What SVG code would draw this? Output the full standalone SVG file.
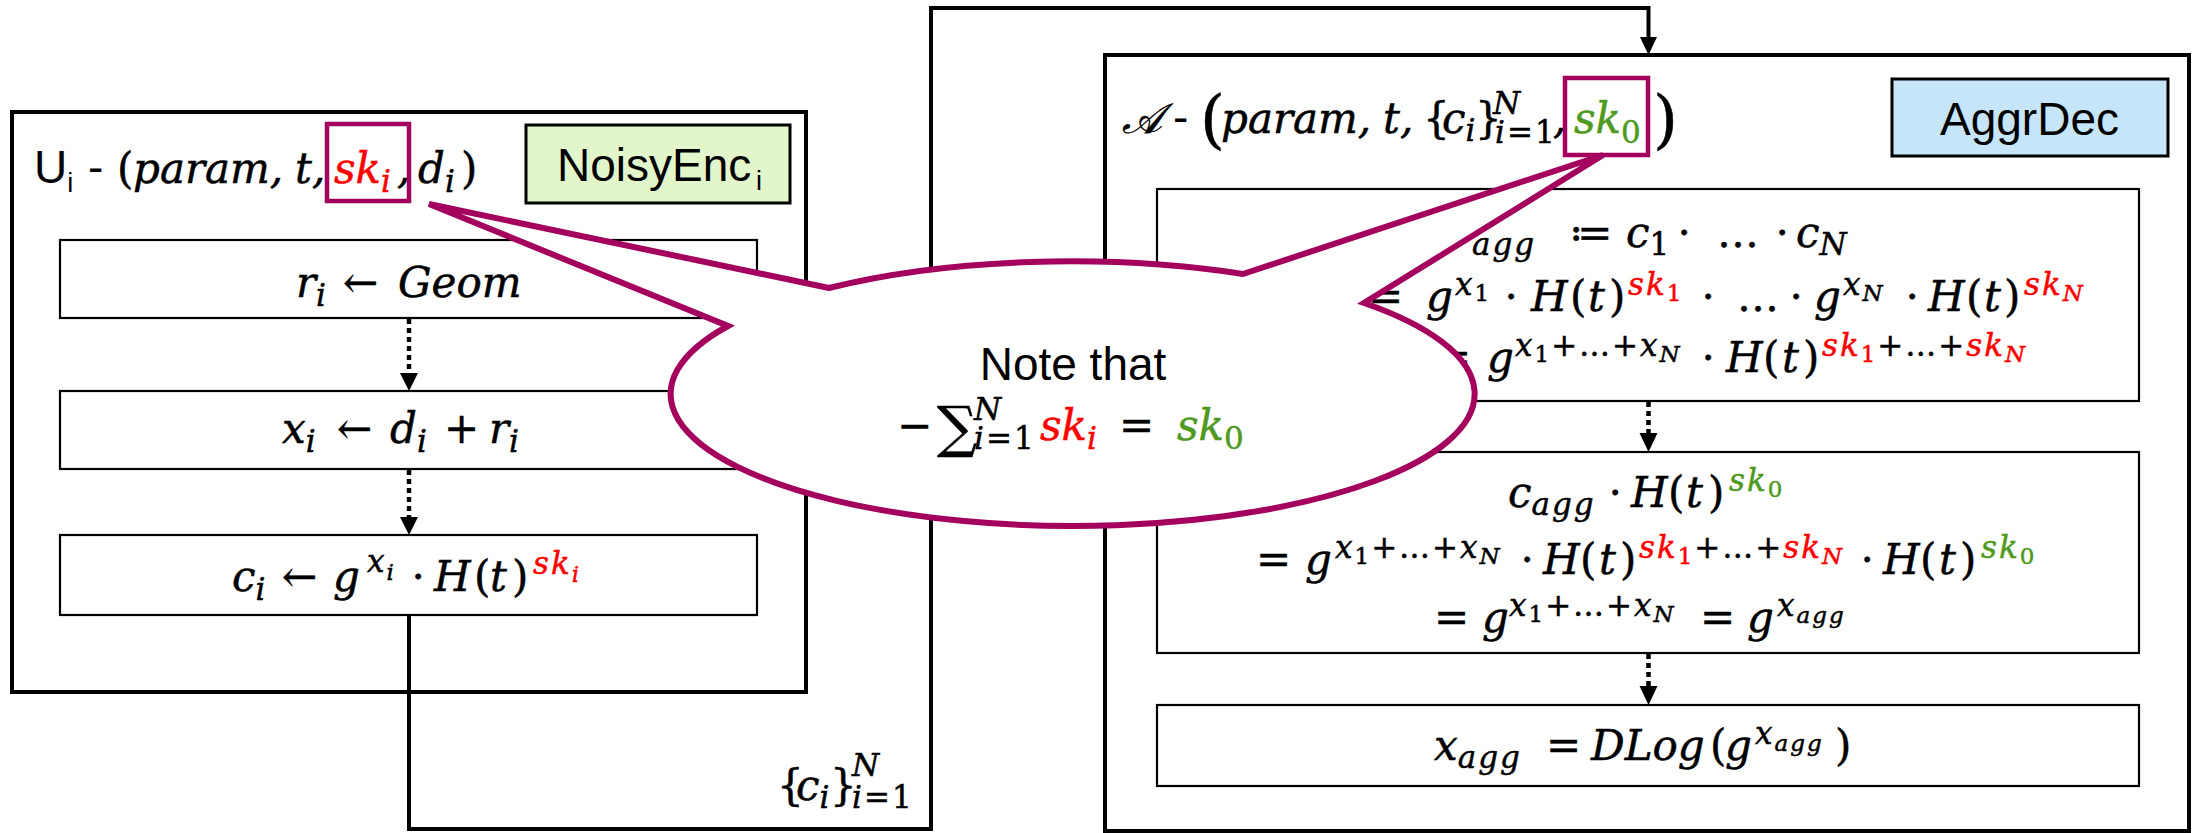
<svg xmlns="http://www.w3.org/2000/svg" width="2192" height="833" viewBox="0 0 2192 833">
<style>
.bg{fill:#fff}
.frame{fill:none;stroke:#000;stroke-width:4}
.box{fill:#fff;stroke:#000;stroke-width:2.2}
.lab{stroke:#000;stroke-width:3}
.hl{fill:none;stroke:#A4005E;stroke-width:4.5}
.bubble{fill:#fff;stroke:#A4005E;stroke-width:6;stroke-linejoin:miter}
.sans{font-family:"Liberation Sans",Arial,sans-serif;font-size:46px;fill:#000}
.m{font-family:"DejaVu Serif",serif;font-style:italic;font-size:42px;fill:#000;stroke:#000;stroke-width:0.5}
.u{font-style:normal}
.s{font-size:31px;letter-spacing:2px}
.ss{font-size:23px;letter-spacing:2px}
.red{fill:#FF0000;stroke:#FF0000}
.grn{fill:#4F9A1E;stroke:#4F9A1E}
.dot{stroke:#000;stroke-width:4.5;stroke-dasharray:5 4;fill:none}
.con{stroke:#000;stroke-width:4;fill:none}
.head{fill:#000}
</style>
<rect class="bg" x="0" y="0" width="2192" height="833"/>

<g id="connectors">
  <path class="con" d="M409,615 V829 H931 V8 H1648.5 V38"/>
  <polygon class="head" points="1640,37 1657,37 1648.5,55"/>
  <line class="dot" x1="409" y1="319" x2="409" y2="374"/>
  <polygon class="head" points="400,373 418,373 409,391"/>
  <line class="dot" x1="409" y1="470" x2="409" y2="518"/>
  <polygon class="head" points="400,517 418,517 409,535"/>
  <line class="dot" x1="1648.5" y1="402" x2="1648.5" y2="434"/>
  <polygon class="head" points="1639.5,433 1657.5,433 1648.5,452"/>
  <line class="dot" x1="1648.5" y1="654" x2="1648.5" y2="686"/>
  <polygon class="head" points="1639.5,686 1657.5,686 1648.5,705"/>
  <text class="m" y="800"><tspan class="u" x="777">{</tspan><tspan x="796">c</tspan><tspan class="s" y="808">i</tspan><tspan class="u" x="830" y="800">}</tspan><tspan class="s" x="852" y="776">N</tspan><tspan class="s" x="852" y="808">i</tspan><tspan class="s u">=1</tspan></text>
</g>

<g id="user">
  <rect class="frame" x="12" y="112" width="794" height="580"/>
  <rect class="lab" fill="#E2F5CB" x="526" y="125" width="264" height="78"/>
  <text class="sans" x="557" y="181">NoisyEnc<tspan font-size="27" x="756" y="190">i</tspan></text>
  <text class="sans" x="34" y="183">U<tspan font-size="27" y="192">i</tspan><tspan x="88" y="183">-</tspan></text>
  <text class="m" y="183"><tspan class="u" x="117">(</tspan><tspan x="133">param,</tspan><tspan x="295">t,</tspan><tspan class="red" x="334">sk</tspan><tspan class="red s" y="192">i</tspan><tspan x="397" y="183">,</tspan><tspan x="418">d</tspan><tspan class="s" y="192">i</tspan><tspan class="u" x="461" y="183">)</tspan></text>
  <rect class="hl" x="327" y="124" width="82" height="77"/>
</g>

<g id="step-r">
  <rect class="box" x="60" y="240" width="697" height="78"/>
  <text class="m" y="297"><tspan x="296">r</tspan><tspan class="s" y="306">i</tspan><tspan class="u" x="343" y="297">←</tspan><tspan x="398">Geom</tspan></text>
</g>
<g id="step-x">
  <rect class="box" x="60" y="391" width="697" height="78"/>
  <text class="m" y="443"><tspan x="282">x</tspan><tspan class="s" y="452">i</tspan><tspan class="u" x="337" y="443">←</tspan><tspan x="390">d</tspan><tspan class="s" y="452">i</tspan><tspan class="u" x="444" y="443">+</tspan><tspan x="489">r</tspan><tspan class="s" y="452">i</tspan></text>
</g>
<g id="step-c">
  <rect class="box" x="60" y="535" width="697" height="80"/>
  <text class="m" y="591"><tspan x="232">c</tspan><tspan class="s" y="600">i</tspan><tspan class="u" x="282" y="591">←</tspan><tspan x="333">g</tspan><tspan class="s" x="367" y="572">x</tspan><tspan class="ss" y="580">i</tspan><tspan class="u" x="411" y="591">⋅</tspan><tspan x="434">H</tspan><tspan class="u" x="474">(</tspan><tspan x="490">t</tspan><tspan class="u" x="512">)</tspan><tspan class="red s" x="533" y="574">sk</tspan><tspan class="red ss" y="582">i</tspan></text>
</g>

<g id="aggregator">
  <rect class="frame" x="1105" y="55" width="1084" height="776"/>
  <rect class="lab" fill="#C6E5F8" x="1892" y="79" width="276" height="77"/>
  <text class="sans" x="1940" y="135">AggrDec</text>
  <text class="m" y="133"><tspan x="1122">𝒜</tspan></text>
  <text class="sans" x="1173" y="133">-</text>
  <text class="m" y="133"><tspan class="u" x="1200" y="141" font-size="64">(</tspan><tspan x="1221" y="133">param,</tspan><tspan x="1383">t,</tspan><tspan class="u" x="1423">{</tspan><tspan x="1442">c</tspan><tspan class="s" y="141">i</tspan><tspan class="u" x="1475" y="133">}</tspan><tspan class="s" x="1493" y="114">N</tspan><tspan class="s" x="1495" y="143">i</tspan><tspan class="s u">=1</tspan><tspan x="1553" y="133">,</tspan><tspan class="grn" x="1574">sk</tspan><tspan class="grn s u" y="143">0</tspan><tspan class="u" x="1653" y="141" font-size="64">)</tspan></text>
  <rect class="hl" x="1565" y="78" width="83" height="77"/>
</g>

<g id="agg-product">
  <rect class="box" x="1157" y="189" width="982" height="212"/>
  <text class="m" y="247"><tspan x="1440">c</tspan><tspan class="s" x="1472" y="255">agg</tspan><tspan class="u" x="1569" y="247">≔</tspan><tspan x="1626">c</tspan><tspan class="s u" y="255">1</tspan><tspan class="u" x="1677" y="247">⋅</tspan><tspan class="u" x="1717">…</tspan><tspan class="u" x="1775">⋅</tspan><tspan x="1796">c</tspan><tspan class="s" y="255">N</tspan></text>
  <text class="m" y="311"><tspan class="u" x="1368">=</tspan><tspan x="1426">g</tspan><tspan class="s" x="1455" y="295">x</tspan><tspan class="ss u" y="301">1</tspan><tspan class="u" x="1504" y="311">⋅</tspan><tspan x="1531">H</tspan><tspan class="u" x="1570">(</tspan><tspan x="1588">t</tspan><tspan class="u" x="1609">)</tspan><tspan class="red s" x="1628" y="295">sk</tspan><tspan class="red ss u" y="301">1</tspan><tspan class="u" x="1701" y="311">⋅</tspan><tspan class="u" x="1737">…</tspan><tspan class="u" x="1789">⋅</tspan><tspan x="1814">g</tspan><tspan class="s" x="1843" y="295">x</tspan><tspan class="ss" y="301">N</tspan><tspan class="u" x="1905" y="311">⋅</tspan><tspan x="1928">H</tspan><tspan class="u" x="1966">(</tspan><tspan x="1984">t</tspan><tspan class="u" x="2004">)</tspan><tspan class="red s" x="2024" y="295">sk</tspan><tspan class="red ss" y="301">N</tspan></text>
  <text class="m" y="372"><tspan class="u" x="1436">=</tspan><tspan x="1487">g</tspan><tspan class="s" x="1515" y="356">x</tspan><tspan class="ss u" y="362">1</tspan><tspan class="s u" y="356">+</tspan><tspan class="s u">…</tspan><tspan class="s u">+</tspan><tspan class="s">x</tspan><tspan class="ss" y="362">N</tspan><tspan class="u" x="1701" y="372">⋅</tspan><tspan x="1726">H</tspan><tspan class="u" x="1763">(</tspan><tspan x="1782">t</tspan><tspan class="u" x="1803">)</tspan><tspan class="red s" x="1822" y="356">sk</tspan><tspan class="red ss u" y="362">1</tspan><tspan class="s u" y="356">+</tspan><tspan class="s u">…</tspan><tspan class="s u">+</tspan><tspan class="red s">sk</tspan><tspan class="red ss" y="362">N</tspan></text>
</g>

<g id="agg-unmask">
  <rect class="box" x="1157" y="452" width="982" height="201"/>
  <text class="m" y="507"><tspan x="1508">c</tspan><tspan class="s" y="515">agg</tspan><tspan class="u" x="1608" y="507">⋅</tspan><tspan x="1631">H</tspan><tspan class="u" x="1668">(</tspan><tspan x="1686">t</tspan><tspan class="u" x="1708">)</tspan><tspan class="grn s" x="1729" y="491">sk</tspan><tspan class="grn ss u" y="497">0</tspan></text>
  <text class="m" y="574"><tspan class="u" x="1256">=</tspan><tspan x="1305">g</tspan><tspan class="s" x="1335" y="558">x</tspan><tspan class="ss u" y="564">1</tspan><tspan class="s u" y="558">+</tspan><tspan class="s u">…</tspan><tspan class="s u">+</tspan><tspan class="s">x</tspan><tspan class="ss" y="564">N</tspan><tspan class="u" x="1520" y="574">⋅</tspan><tspan x="1543">H</tspan><tspan class="u" x="1580">(</tspan><tspan x="1599">t</tspan><tspan class="u" x="1620">)</tspan><tspan class="red s" x="1639" y="558">sk</tspan><tspan class="red ss u" y="564">1</tspan><tspan class="s u" y="558">+</tspan><tspan class="s u">…</tspan><tspan class="s u">+</tspan><tspan class="red s">sk</tspan><tspan class="red ss" y="564">N</tspan><tspan class="u" x="1860" y="574">⋅</tspan><tspan x="1883">H</tspan><tspan class="u" x="1920">(</tspan><tspan x="1939">t</tspan><tspan class="u" x="1960">)</tspan><tspan class="grn s" x="1981" y="558">sk</tspan><tspan class="grn ss u" y="564">0</tspan></text>
  <text class="m" y="632"><tspan class="u" x="1434">=</tspan><tspan x="1482">g</tspan><tspan class="s" x="1509" y="616">x</tspan><tspan class="ss u" y="622">1</tspan><tspan class="s u" y="616">+</tspan><tspan class="s u">…</tspan><tspan class="s u">+</tspan><tspan class="s">x</tspan><tspan class="ss" y="622">N</tspan><tspan class="u" x="1700" y="632">=</tspan><tspan x="1747">g</tspan><tspan class="s" x="1777" y="616">x</tspan><tspan class="ss" y="623">agg</tspan></text>
</g>

<g id="agg-dlog">
  <rect class="box" x="1157" y="705" width="982" height="81"/>
  <text class="m" y="760"><tspan x="1434">x</tspan><tspan class="s" y="768">agg</tspan><tspan class="u" x="1546" y="760">=</tspan><tspan x="1591">DLog</tspan><tspan class="u" x="1710">(</tspan><tspan x="1725">g</tspan><tspan class="s" x="1755" y="744">x</tspan><tspan class="ss" y="751">agg</tspan><tspan class="u" x="1835" y="760">)</tspan></text>
</g>

<g id="note">
  <path class="bubble" d="M829,288 L429,204 L728,326 A402,132 0 1 0 1364,303 L1603,155 L1243,274 A402,132 0 0 0 829,288 Z"/>
  <text class="sans" x="1073" y="380" font-size="47" text-anchor="middle">Note that</text>
  <text class="m" y="440"><tspan class="u" x="897">−</tspan><tspan class="u" x="937" y="446" font-size="56">∑</tspan><tspan class="s" x="974" y="420">N</tspan><tspan class="s" x="974" y="449">i</tspan><tspan class="s u">=1</tspan><tspan class="red" x="1040" y="440">sk</tspan><tspan class="red s" y="449">i</tspan><tspan class="u" x="1119" y="440">=</tspan><tspan class="grn" x="1177">sk</tspan><tspan class="grn s u" y="449">0</tspan></text>
</g>
</svg>
